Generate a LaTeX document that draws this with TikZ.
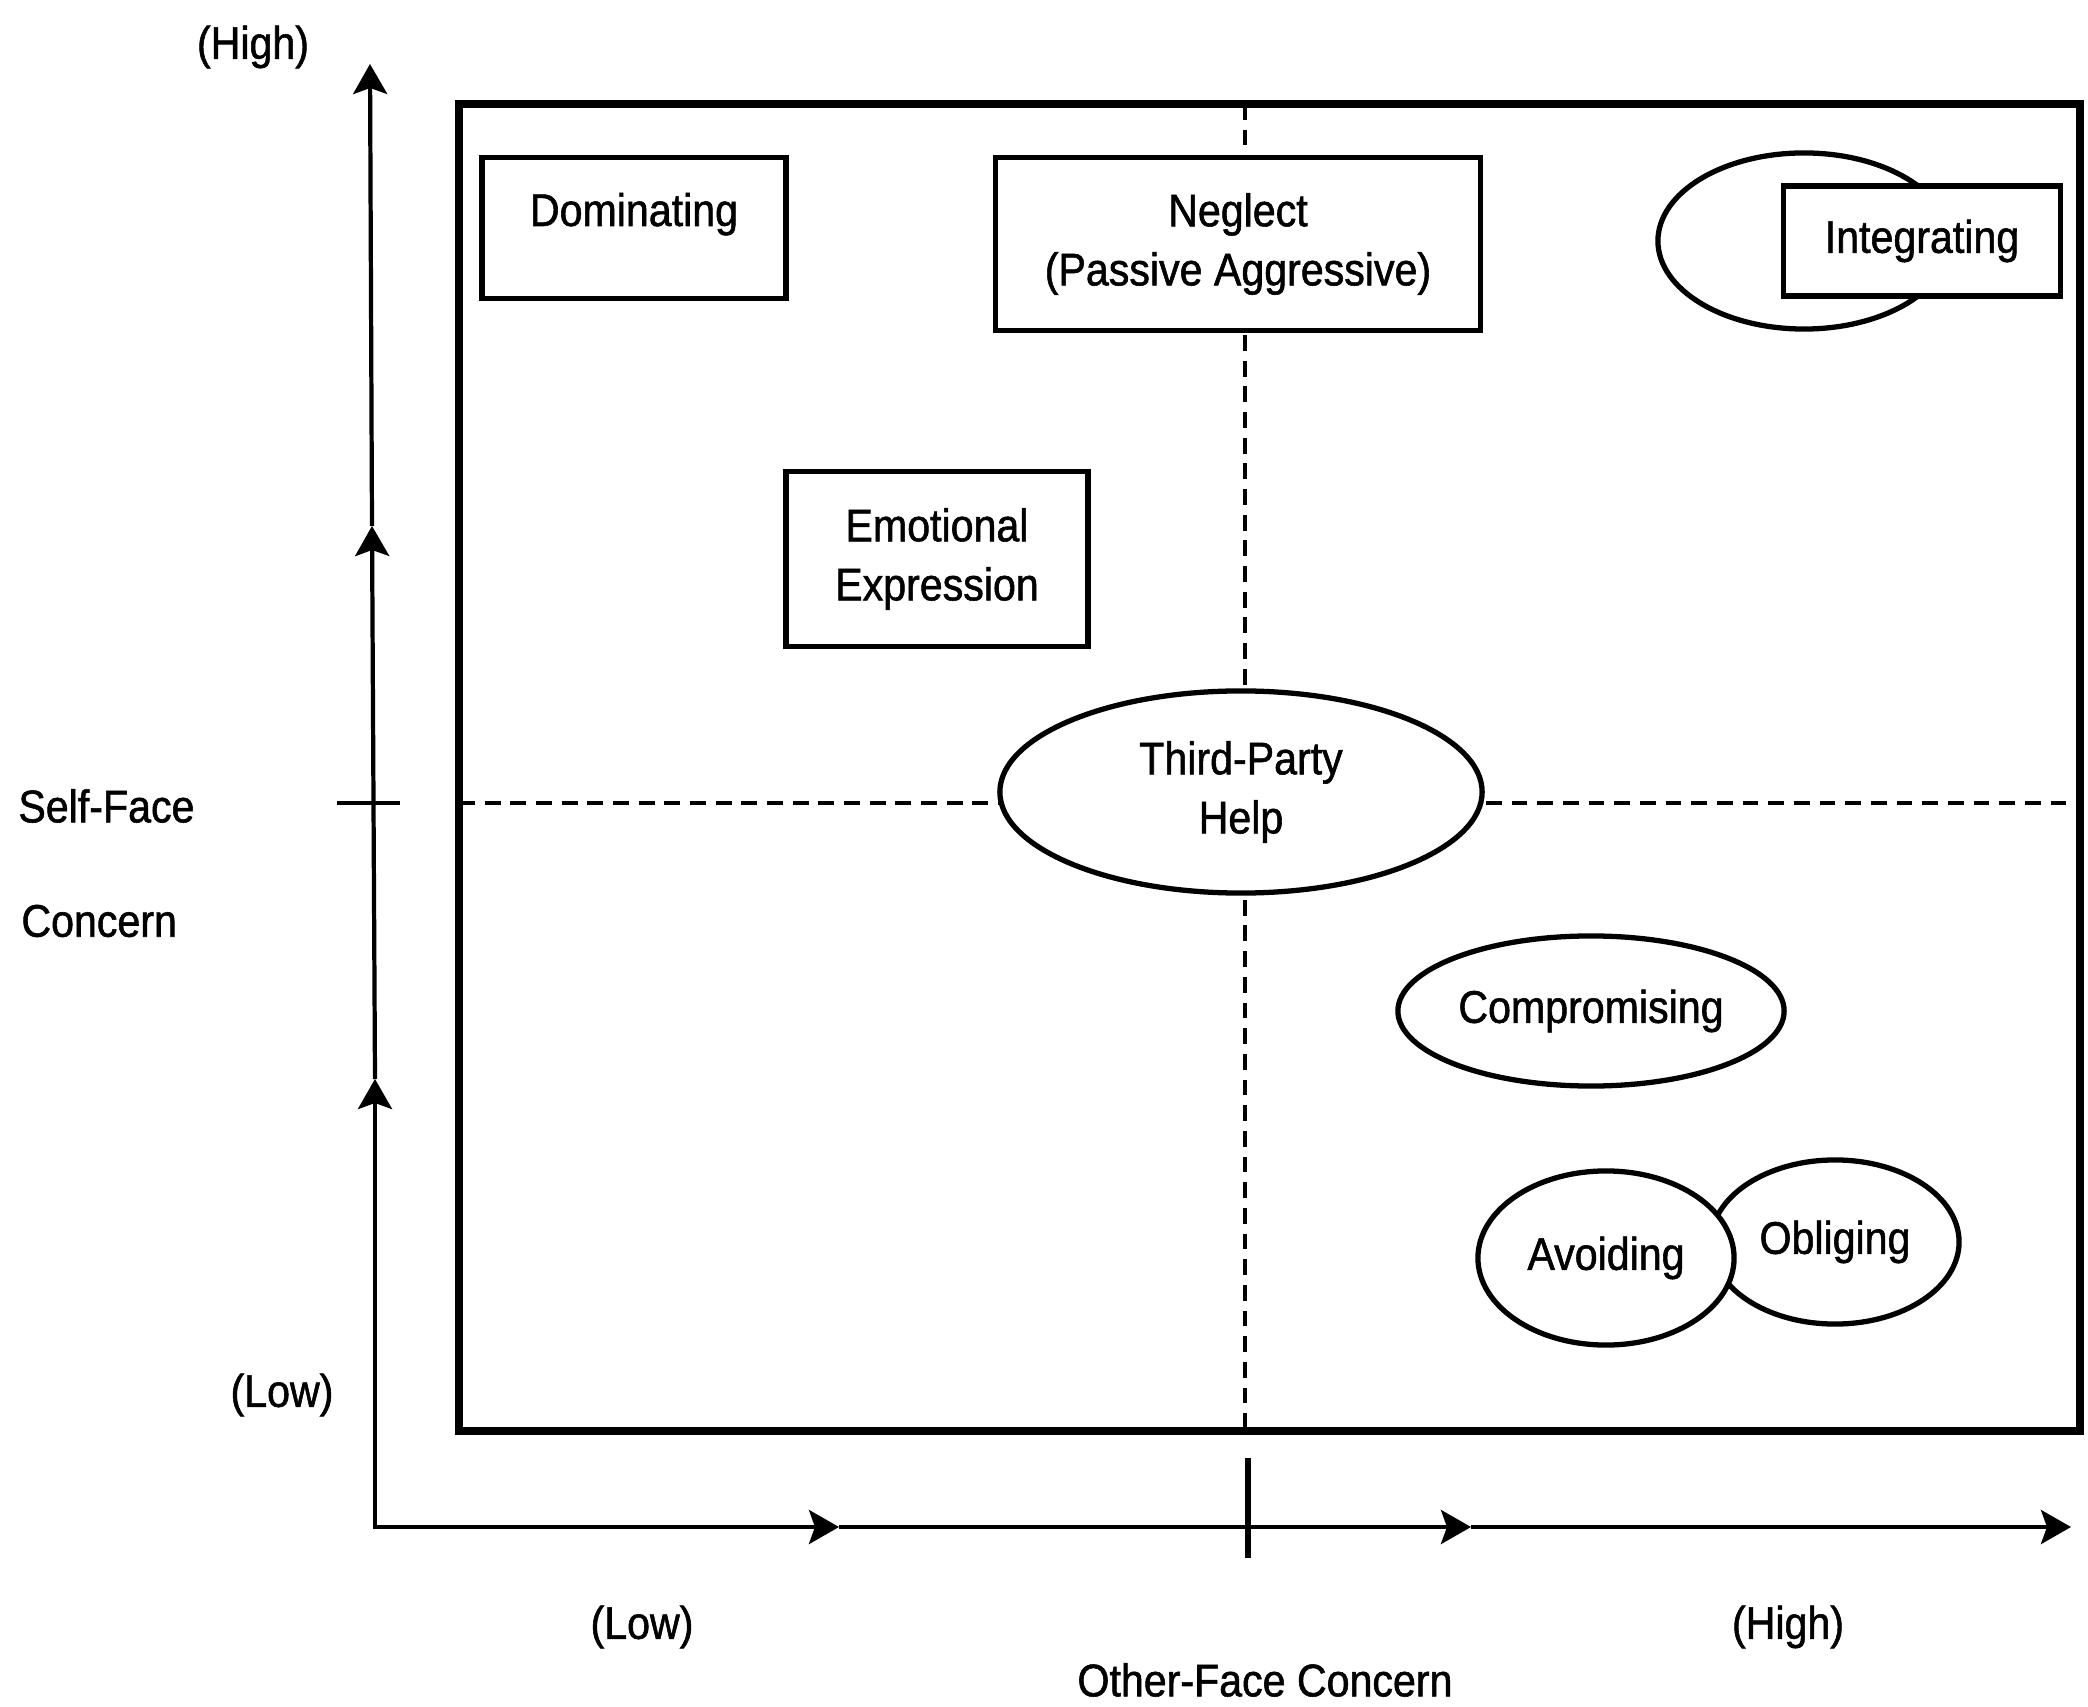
\documentclass[tikz,border=0pt]{standalone}
\usepackage{fontspec}
\setmainfont{Liberation Sans}[FakeStretch=0.9, FakeBold=1.2]
\usetikzlibrary{arrows.meta, positioning, shapes.geometric}

\begin{document}
\begin{tikzpicture}[x=0.01cm, y=-0.01cm,
    font=\fontsize{13}{16.8}\selectfont,
    stylebox/.style={draw, line width=1.5pt, fill=white, align=center, inner sep=0pt},
    styleoval/.style={draw, ellipse, line width=1.5pt, fill=white, align=center, inner sep=0pt},
    axis/.style={line width=1.2pt},
    axisarrow/.style={-{Stealth[length=3mm, width=3.4mm, inset=0.6mm]}},
    botharrow/.style={{Stealth[length=3mm, width=3.4mm, inset=0.6mm]}-{Stealth[length=3mm, width=3.4mm, inset=0.6mm]}},
    midline/.style={line width=1.1pt, dash pattern=on 4.5pt off 2.8pt}]
    \useasboundingbox (0,0) rectangle (2088,1707);

    % Draw the dashed quadrant lines
    \draw[midline] (1245,104) -- (1245,1431);
    \draw[midline] (459,803) -- (2080,803);
    % Draw the outer frame
    \draw[line width=2.4pt] (459,104) rectangle (2080,1431);

    % Draw the axes
    \coordinate (origin) at (375,1527);
    \coordinate (ylow) at (375,1079);
    \coordinate (ymid) at (372,526);
    \coordinate (ytop) at (370,64);
    \coordinate (xlow) at (839,1527);
    \coordinate (xmid) at (1471,1527);
    \coordinate (xtop) at (2071,1527);
    \draw[axis, botharrow] (ylow) -- (origin) -- (xlow);
    \draw[axis, axisarrow] (ylow) -- (ymid);
    \draw[axis, axisarrow] (ymid) -- (ytop);
    \draw[axis, axisarrow] (xlow) -- (xmid);
    \draw[axis, axisarrow] (xmid) -- (xtop);
    \draw[line width=1.5pt] (1248,1458) -- (1248,1558);
    \draw[axis] (337,803) -- (400,803);

    % Draw the axis labels
    \node (yhigh) at (253,47) {(High)};
    \node (ylowlabel) at (282,1395) {(Low)};
    \node[anchor=west] (selfface) at (6,806) {Self-Face};
    \node[anchor=west] (concern) at (9,921) {Concern};
    \node (xlowlabel) at (642,1627) {(Low)};
    \node (xhighlabel) at (1788,1627) {(High)};
    \node (otherface) at (1265,1680) {Other-Face Concern};

    % Draw the conflict styles
    \node[stylebox, minimum width=3.04cm, minimum height=1.41cm, text height=3mm, text depth=3.4mm] (dominating) at (634,228) {Dominating};
    \node[stylebox, minimum width=4.85cm, minimum height=1.73cm] (neglect) at (1238,244) {Neglect\\(Passive Aggressive)};
    \node[stylebox, minimum width=3.02cm, minimum height=1.75cm] (emotional) at (937,559) {Emotional\\Expression};
    \node[styleoval, minimum width=2.92cm, minimum height=1.76cm] (intoval) at (1804,241) {};
    \node[stylebox, minimum width=2.77cm, minimum height=1.1cm] (integrating) at (1922,241) {Integrating};
    \node[styleoval, minimum width=4.82cm, minimum height=2.02cm] (thirdparty) at (1241,792) {Third-Party\\Help};
    \node[styleoval, minimum width=3.86cm, minimum height=1.5cm] (compromising) at (1591,1011) {Compromising};
    \node[styleoval, minimum width=2.48cm, minimum height=1.64cm] (obliging) at (1835,1242) {Obliging};
    \node[styleoval, minimum width=2.56cm, minimum height=1.74cm] (avoiding) at (1606,1258) {Avoiding};
\end{tikzpicture}
\end{document}
